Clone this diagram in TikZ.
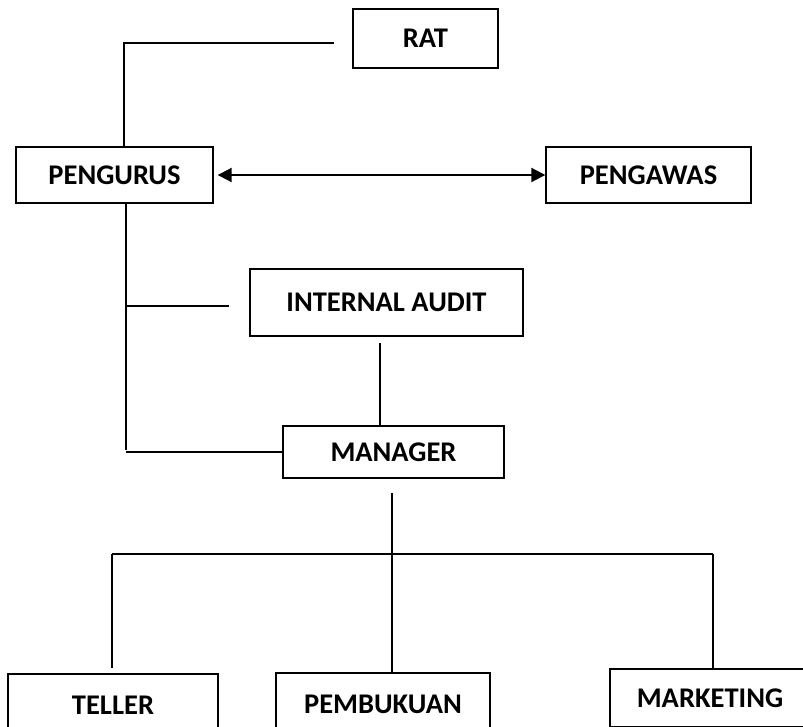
\documentclass[tikz,border=0pt]{standalone}
\usepackage{fontspec}
\setmainfont{Carlito}
\usetikzlibrary{arrows.meta}
\begin{document}
\begin{tikzpicture}[x=1pt,y=-1pt,
  orgbox/.style={draw=black,line width=1.4pt,inner sep=0pt,font=\fontsize{28.5}{30}\selectfont\bfseries},
  conn/.style={draw=black,line width=1.2pt},
  dblarrow/.style={draw=black,line width=2pt,{Triangle[length=14pt,width=14pt]}-{Triangle[length=14pt,width=14pt]}}]
\useasboundingbox (0,0) rectangle (803,726);
\clip (0,0) rectangle (803,726);
% boxes
\node[orgbox,minimum width=145pt,minimum height=59pt] (rat) at (425.5,38.5) {RAT};
\node[orgbox,minimum width=197pt,minimum height=56pt] (pengurus) at (114.5,175) {PENGURUS};
\node[orgbox,minimum width=205pt,minimum height=56pt] (pengawas) at (648.5,175) {PENGAWAS};
\node[orgbox,minimum width=273pt,minimum height=67pt] (audit) at (386.5,302.5) {INTERNAL AUDIT};
\node[orgbox,minimum width=221pt,minimum height=52pt] (manager) at (393.5,452) {MANAGER};
\node[orgbox,minimum width=210pt,minimum height=62pt] (teller) at (113,705) {TELLER};
\node[orgbox,minimum width=214pt,minimum height=62pt] (pembukuan) at (383,704) {PEMBUKUAN};
\node[orgbox,minimum width=200pt,minimum height=58pt] (marketing) at (710,698) {MARKETING};
% coordinates for free ends
\coordinate (ratend) at (334,43);
\coordinate (ratcorner) at (124,43);
\coordinate (pgdown) at (126,450);
\coordinate (auditstub) at (229,306);
\coordinate (auditdown) at (380,343);
\coordinate (mgrtick) at (392,493);
\coordinate (barL) at (112,554);
\coordinate (barM) at (392,554);
\coordinate (barR) at (713,554);
\coordinate (tellerend) at (112,668);
% connectors
\draw[conn] (ratend) -- (ratcorner) -- (ratcorner |- pengurus.north);
\draw[dblarrow] ([xshift=4pt]pengurus.east) -- (pengawas.west);
\draw[conn] (pengurus.south -| pgdown) -- (pgdown);
\draw[conn] (auditstub -| pgdown) -- (auditstub);
\draw[conn] (manager.west -| pgdown) -- (manager.west);
\draw[conn] (auditdown) -- (auditdown |- manager.north);
\draw[conn] (mgrtick) -- (barM);
\draw[conn] (barL) -- (barR);
\draw[conn] (barL) -- (tellerend);
\draw[conn] (barM) -- (barM |- pembukuan.north);
\draw[conn] (barR) -- (barR |- marketing.north);
\end{tikzpicture}
\end{document}
